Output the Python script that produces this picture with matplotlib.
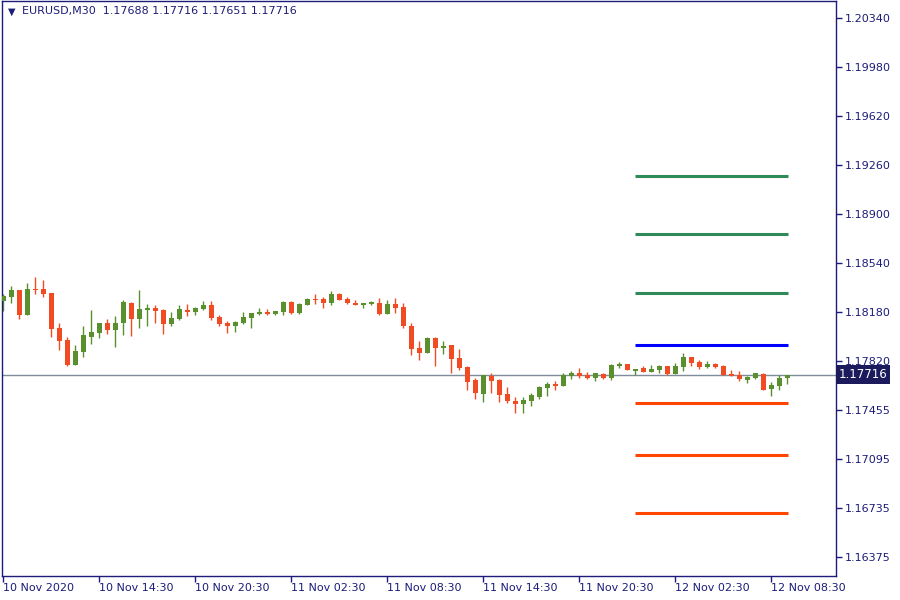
import numpy as np
import matplotlib
matplotlib.use("Agg")
import matplotlib.pyplot as plt
import matplotlib.transforms as mtransforms

# EURUSD M30 candles, 10 Nov 08:30 .. 12 Nov 09:30
opens = [1.18261, 1.18291, 1.18342, 1.18158, 1.18350, 1.18350, 1.18320, 1.18062, 1.17974, 1.17790,
         1.17886, 1.17996, 1.18026, 1.18099, 1.18048, 1.18099, 1.18247, 1.18129, 1.18195, 1.18210,
         1.18195, 1.18092, 1.18129, 1.18195, 1.18180, 1.18202, 1.18232, 1.18144, 1.18099, 1.18077,
         1.18099, 1.18136, 1.18166, 1.18180, 1.18166, 1.18180, 1.18254, 1.18173, 1.18232, 1.18276,
         1.18276, 1.18247, 1.18313, 1.18276, 1.18247, 1.18225, 1.18239, 1.18247, 1.18166, 1.18239,
         1.18217, 1.18077, 1.17915, 1.17878, 1.17989, 1.17915, 1.17937, 1.17841, 1.17775, 1.17679,
         1.17576, 1.17709, 1.17679, 1.17576, 1.17524, 1.17502, 1.17524, 1.17554, 1.17620, 1.17650,
         1.17635, 1.17709, 1.17731, 1.17716, 1.17694, 1.17723, 1.17694, 1.17782, 1.17797, 1.17746,
         1.17768, 1.17738, 1.17753, 1.17782, 1.17723, 1.17775, 1.17849, 1.17812, 1.17775, 1.17797,
         1.17782, 1.17723, 1.17716, 1.17679, 1.17694, 1.17723, 1.17613, 1.17635, 1.17688]
highs = [1.18306, 1.18365, 1.18342, 1.18394, 1.18438, 1.18409, 1.18320, 1.18099, 1.17996, 1.17937,
         1.18077, 1.18195, 1.18099, 1.18129, 1.18151, 1.18269, 1.18254, 1.18342, 1.18239, 1.18232,
         1.18202, 1.18180, 1.18225, 1.18239, 1.18217, 1.18261, 1.18261, 1.18158, 1.18114, 1.18114,
         1.18180, 1.18173, 1.18210, 1.18202, 1.18188, 1.18261, 1.18261, 1.18247, 1.18283, 1.18306,
         1.18291, 1.18328, 1.18320, 1.18291, 1.18269, 1.18247, 1.18261, 1.18283, 1.18269, 1.18283,
         1.18247, 1.18099, 1.17967, 1.17996, 1.17996, 1.17967, 1.17937, 1.17908, 1.17782, 1.17694,
         1.17716, 1.17731, 1.17687, 1.17628, 1.17554, 1.17554, 1.17583, 1.17635, 1.17664, 1.17672,
         1.17731, 1.17746, 1.17768, 1.17738, 1.17731, 1.17731, 1.17797, 1.17812, 1.17797, 1.17760,
         1.17782, 1.17790, 1.17790, 1.17782, 1.17804, 1.17878, 1.17849, 1.17827, 1.17819, 1.17804,
         1.17790, 1.17753, 1.17746, 1.17709, 1.17731, 1.17731, 1.17664, 1.17716, 1.17716]
lows = [1.18188, 1.18247, 1.18129, 1.18158, 1.18313, 1.18291, 1.17996, 1.17900, 1.17782, 1.17790,
        1.17849, 1.17945, 1.17989, 1.18018, 1.17922, 1.18011, 1.18003, 1.18062, 1.18077, 1.18099,
        1.18018, 1.18077, 1.18121, 1.18151, 1.18158, 1.18195, 1.18121, 1.18077, 1.18026, 1.18033,
        1.18092, 1.18062, 1.18158, 1.18158, 1.18158, 1.18158, 1.18166, 1.18166, 1.18225, 1.18239,
        1.18210, 1.18232, 1.18269, 1.18239, 1.18225, 1.18210, 1.18225, 1.18158, 1.18166, 1.18173,
        1.18062, 1.17863, 1.17827, 1.17878, 1.17782, 1.17871, 1.17731, 1.17753, 1.17605, 1.17539,
        1.17517, 1.17583, 1.17517, 1.17510, 1.17436, 1.17436, 1.17488, 1.17539, 1.17561, 1.17605,
        1.17635, 1.17687, 1.17694, 1.17687, 1.17672, 1.17687, 1.17679, 1.17768, 1.17753, 1.17716,
        1.17738, 1.17738, 1.17731, 1.17716, 1.17723, 1.17746, 1.17782, 1.17760, 1.17768, 1.17768,
        1.17716, 1.17709, 1.17672, 1.17657, 1.17687, 1.17605, 1.17561, 1.17605, 1.17651]
closes = [1.18298, 1.18342, 1.18158, 1.18350, 1.18342, 1.18313, 1.18055, 1.17967, 1.17790, 1.17893,
          1.18011, 1.18033, 1.18099, 1.18048, 1.18099, 1.18254, 1.18129, 1.18202, 1.18210, 1.18188,
          1.18092, 1.18136, 1.18202, 1.18180, 1.18210, 1.18225, 1.18136, 1.18092, 1.18077, 1.18107,
          1.18144, 1.18173, 1.18180, 1.18166, 1.18188, 1.18254, 1.18173, 1.18239, 1.18276, 1.18269,
          1.18247, 1.18313, 1.18269, 1.18247, 1.18225, 1.18247, 1.18254, 1.18166, 1.18239, 1.18210,
          1.18077, 1.17908, 1.17878, 1.17989, 1.17915, 1.17930, 1.17834, 1.17768, 1.17664, 1.17583,
          1.17716, 1.17672, 1.17569, 1.17524, 1.17502, 1.17532, 1.17569, 1.17628, 1.17650, 1.17635,
          1.17716, 1.17731, 1.17709, 1.17694, 1.17731, 1.17694, 1.17790, 1.17797, 1.17753, 1.17760,
          1.17738, 1.17760, 1.17782, 1.17723, 1.17782, 1.17849, 1.17804, 1.17775, 1.17797, 1.17775,
          1.17716, 1.17709, 1.17687, 1.17701, 1.17731, 1.17605, 1.17642, 1.17694, 1.17716]

# horizontal levels drawn over the last bars
upper_levels = [1.19176, 1.18748, 1.18320]
pivot_level = 1.17937
lower_levels = [1.17510, 1.17127, 1.16699]
level_start = 79
level_end = 98

last_price = 1.17716
header = "EURUSD,M30  1.17688 1.17716 1.17651 1.17716"

price_ticks = [1.20340, 1.19980, 1.19620, 1.19260, 1.18900, 1.18540, 1.18180,
               1.17820, 1.17455, 1.17095, 1.16735, 1.16375]
time_tick_bars = [0, 12, 24, 36, 48, 60, 72, 84, 96]
time_labels = ["10 Nov 2020", "10 Nov 14:30", "10 Nov 20:30", "11 Nov 02:30",
               "11 Nov 08:30", "11 Nov 14:30", "11 Nov 20:30", "12 Nov 02:30",
               "12 Nov 08:30"]

navy = "#1c1c7a"
up_col = "#5a8f2e"
down_col = "#f04b23"

fig = plt.figure(figsize=(9, 6), dpi=100)
ax = fig.add_axes([2 / 900, 24 / 600, 834 / 900, 575 / 600])

o = np.array(opens)
h = np.array(highs)
l = np.array(lows)
c = np.array(closes)
x = np.arange(len(o))
cols = [up_col if cc >= oo else down_col for oo, cc in zip(o, c)]

ax.vlines(x, l, h, colors=cols, linewidth=1.0, zorder=2)
body_lo = np.minimum(o, c)
body_h = np.maximum(np.abs(c - o), 0.00006)
ax.bar(x, body_h, bottom=body_lo, width=0.62, color=cols, linewidth=0, zorder=3)

ax.axhline(last_price, color="#7f8c9c", linewidth=1.0, zorder=1)

for lv in upper_levels:
    ax.hlines(lv, level_start, level_end + 0.1, color="#2e8b57", linewidth=2.2, zorder=4)
ax.hlines(pivot_level, level_start, level_end + 0.1, color="#0000ff", linewidth=2.2, zorder=4)
for lv in lower_levels:
    ax.hlines(lv, level_start, level_end + 0.1, color="#ff4500", linewidth=2.2, zorder=4)

ax.set_xlim(-0.16, 104.1)
ax.set_ylim(1.16235, 1.20465)

ax.yaxis.tick_right()
ax.set_yticks(price_ticks)
ax.set_yticklabels([f"{p:.5f}" for p in price_ticks])
ax.set_xticks(time_tick_bars)
ax.set_xticklabels(time_labels, ha="left")
ax.tick_params(axis="both", colors=navy, labelcolor=navy, labelsize=8,
               length=4, width=1, direction="out")
ax.tick_params(axis="y", pad=2)
ax.tick_params(axis="x", pad=1)
for sp in ax.spines.values():
    sp.set_color(navy)
    sp.set_linewidth(1)

# last price tag on the right scale
trans = mtransforms.blended_transform_factory(ax.transAxes, ax.transData)
ax.text(1.003, last_price, f"{last_price:.5f}", transform=trans, ha="left", va="center",
        fontsize=8.5, color="white", zorder=10, clip_on=False,
        bbox=dict(facecolor="#1a1a5c", edgecolor="none", boxstyle="square,pad=0.25"))

ax.text(0.007, 0.982, "\u25bc", transform=ax.transAxes, fontsize=7, color=navy,
        ha="left", va="center")
ax.text(0.024, 0.982, header, transform=ax.transAxes, fontsize=8, color=navy,
        ha="left", va="center")

fig.savefig("out.png", dpi=100)
